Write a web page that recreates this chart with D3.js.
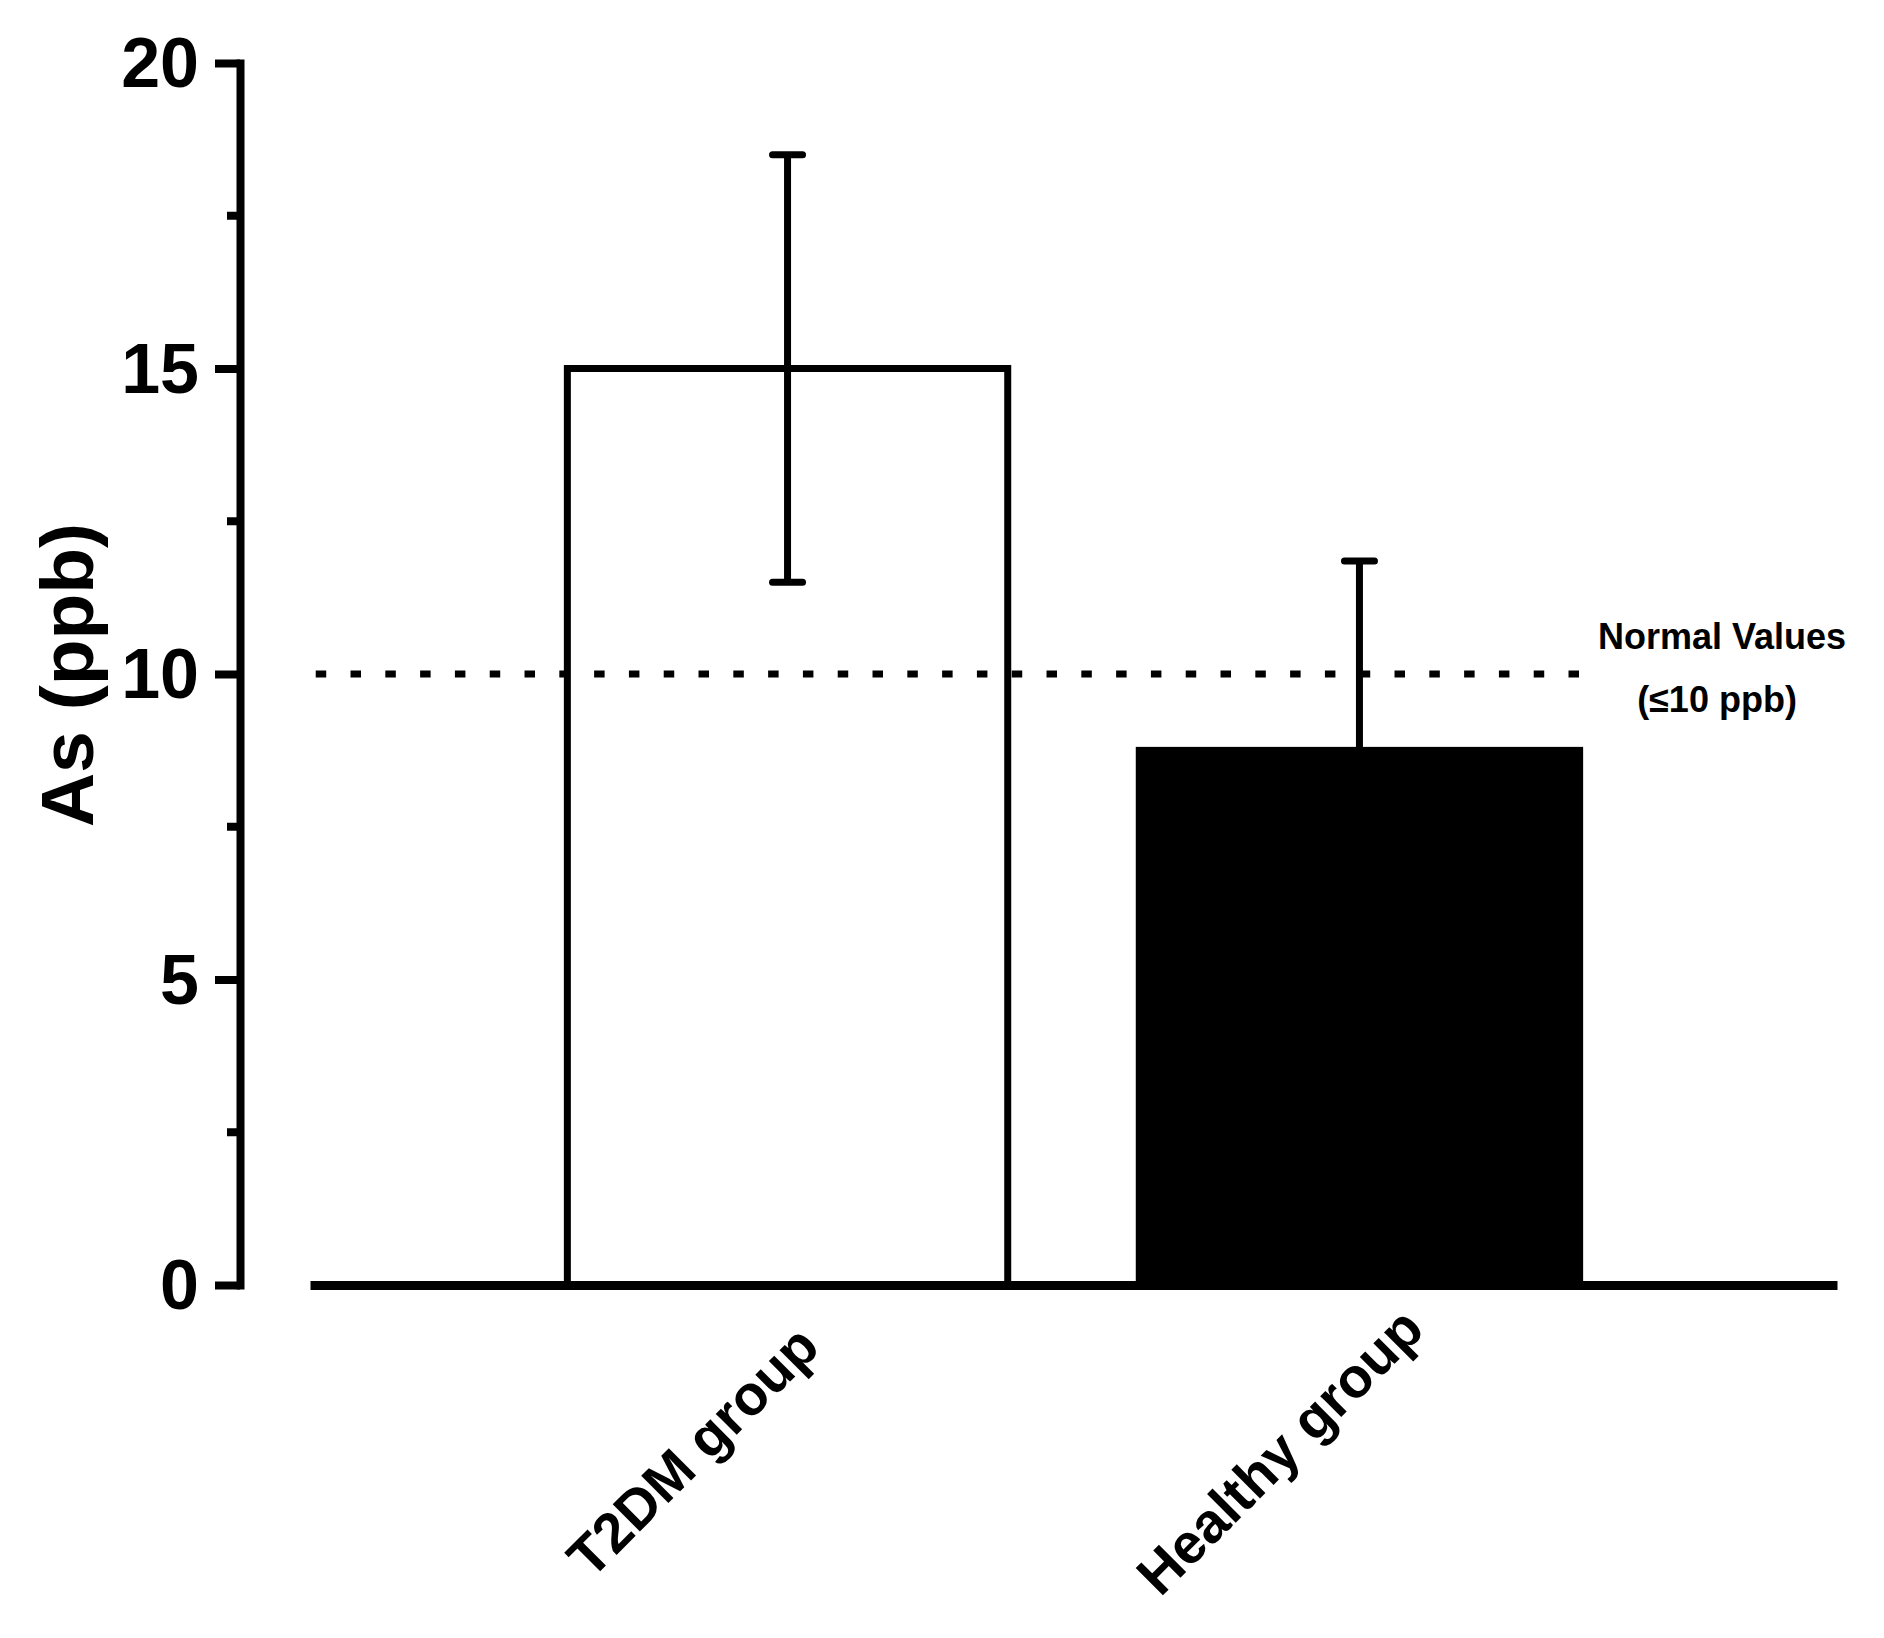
<!DOCTYPE html>
<html>
<head>
<meta charset="utf-8">
<script src="https://cdn.jsdelivr.net/npm/d3@7"></script>
<style>
  html, body { margin: 0; padding: 0; background: #fff; }
  svg { display: block; font-family: Arial, "Liberation Sans", sans-serif; }
</style>
</head>
<body>
<svg id="chart" width="1884" height="1638"></svg>
<script>
// ---- data ----
const categories = ["T2DM group", "Healthy group"];
const means = [15.0, 8.75];
const errors = [3.5, 3.1];
const fills = ["#ffffff", "#000000"];
const yTicks = [0, 5, 10, 15, 20];
const yMinorTicks = [2.5, 7.5, 12.5, 17.5];
const referenceValue = 10;
const referenceLabel = ["Normal Values", "(\u226410 ppb)"];
const yLabel = "As (ppb)";

// ---- layout ----
const svg = d3.select("#chart");
const W = 1884, H = 1638;
svg.append("rect").attr("width", W).attr("height", H).attr("fill", "#fff");

const yAxisX = 240;
const y = d3.scaleLinear().domain([0, 20]).range([1285, 63]);
const x = d3.scaleBand().domain(categories).range([310, 1837])
  .paddingInner(0.23).paddingOuter(0.45);

const data = categories.map((c, i) => ({ c, m: means[i], e: errors[i], f: fills[i] }));

// bars
svg.append("g").selectAll("rect").data(data).join("rect")
  .attr("x", d => x(d.c))
  .attr("y", d => y(d.m))
  .attr("width", x.bandwidth())
  .attr("height", d => y(0) - y(d.m))
  .attr("fill", d => d.f)
  .attr("stroke", "#000")
  .attr("stroke-width", 7)
  .attr("stroke-linejoin", "miter");

// error bars
const eb = svg.append("g").attr("stroke", "#000").attr("stroke-width", 7);
data.forEach(d => {
  const cx = x(d.c) + x.bandwidth() / 2;
  eb.append("line").attr("x1", cx).attr("x2", cx)
    .attr("y1", y(d.m + d.e)).attr("y2", y(d.m - d.e));
  [d.m + d.e, d.m - d.e].forEach(v => {
    eb.append("line").attr("x1", cx - 15).attr("x2", cx + 15)
      .attr("y1", y(v)).attr("y2", y(v)).attr("stroke-linecap", "round");
  });
});

// reference dotted line
const refX1 = x(categories[0]) - 0.44 * x.step();
const refX2 = x(categories[categories.length - 1]) + x.bandwidth() + 3.5;
svg.append("line")
  .attr("x1", refX1).attr("x2", refX2)
  .attr("y1", y(referenceValue)).attr("y2", y(referenceValue))
  .attr("stroke", "#000").attr("stroke-width", 7)
  .attr("stroke-dasharray", "10.5 24.3");

// reference label
const refG = svg.append("g").attr("font-weight", "bold").attr("font-size", 36)
  .attr("text-anchor", "middle").attr("fill", "#000");
refG.append("text").attr("x", 1722).attr("y", y(referenceValue) - 25).text(referenceLabel[0]);
refG.append("text").attr("x", 1717).attr("y", y(referenceValue) + 38).text(referenceLabel[1]);

// y axis
const yAxis = d3.axisLeft(y).tickValues(yTicks).tickSize(25).tickPadding(16)
  .tickSizeOuter(0).tickFormat(d3.format("d"));
const gy = svg.append("g").attr("transform", `translate(${yAxisX},0)`).call(yAxis);
gy.select(".domain").attr("stroke-width", 8).attr("stroke-linecap", "square").attr("stroke", "#000");
gy.selectAll(".tick line").attr("stroke-width", 8).attr("stroke", "#000");
gy.selectAll(".tick text").attr("font-size", 70).attr("font-weight", "bold")
  .attr("fill", "#000").attr("font-family", "Arial, 'Liberation Sans', sans-serif")
  .attr("dy", "0.34em");
gy.selectAll(".minor").data(yMinorTicks).join("line")
  .attr("class", "minor")
  .attr("x1", -13).attr("x2", 0)
  .attr("y1", d => y(d)).attr("y2", d => y(d))
  .attr("stroke", "#000").attr("stroke-width", 8);

// x axis
const xAxis = d3.axisBottom(x).tickSize(0).tickSizeOuter(0);
const gx = svg.append("g").attr("transform", `translate(0,${y(0)})`).call(xAxis);
gx.select(".domain").attr("stroke-width", 9).attr("stroke", "#000");
gx.selectAll(".tick text")
  .attr("font-size", 56).attr("font-weight", "bold").attr("fill", "#000")
  .attr("font-family", "Arial, 'Liberation Sans', sans-serif")
  .attr("text-anchor", "middle")
  .attr("y", 0).attr("dy", 0)
  .attr("transform", (d, i) => `translate(${i === 0 ? -81 : -66},180) rotate(-45)`);

// y label
svg.append("text")
  .attr("transform", `translate(93,675) rotate(-90)`)
  .attr("text-anchor", "middle")
  .attr("font-size", 75).attr("font-weight", "bold").attr("fill", "#000")
  .text(yLabel);
</script>
</body>
</html>
